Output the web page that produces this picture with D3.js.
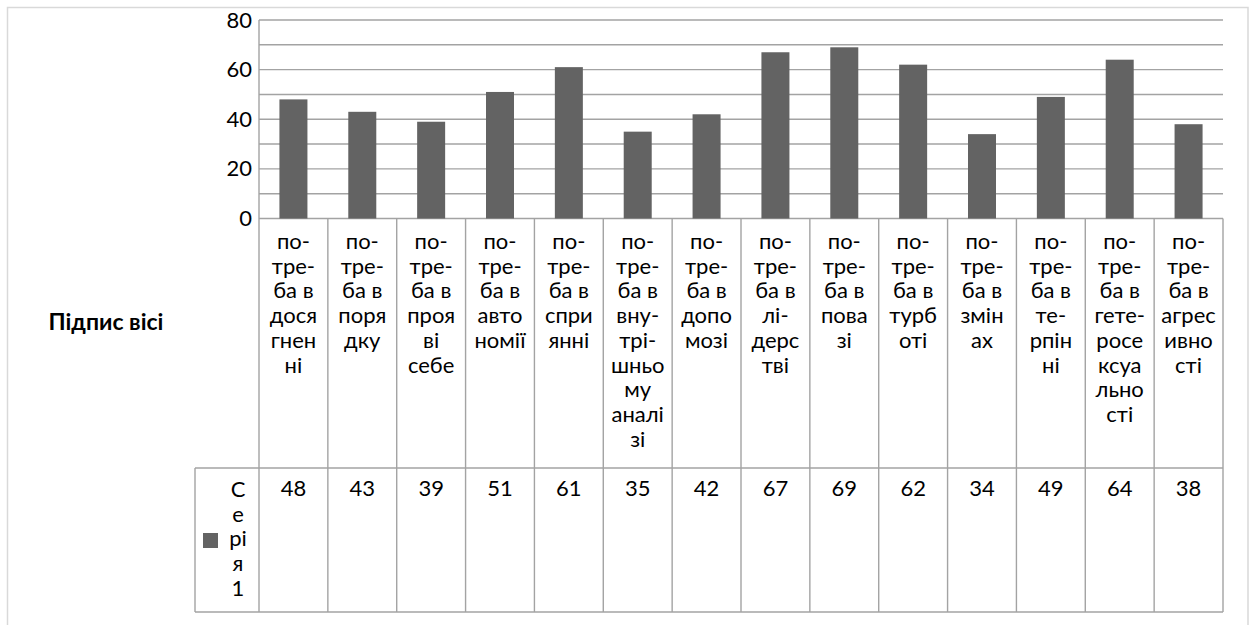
<!DOCTYPE html>
<html>
<head>
<meta charset="utf-8">
<script src="https://cdn.jsdelivr.net/npm/d3@7"></script>
<style>
  html, body { margin: 0; padding: 0; background: #fff; }
  svg { display: block; font-family: Lato, "Open Sans", sans-serif; }
</style>
</head>
<body>
<svg id="chart" width="1254" height="625"></svg>
<script>
// Needs scores per category
const categories = [
  "потреба в досягненні", "потреба в порядку", "потреба в прояві себе",
  "потреба в автономії", "потреба в сприянні", "потреба в внутрішньому аналізі",
  "потреба в допомозі", "потреба в лідерстві", "потреба в повазі",
  "потреба в турботі", "потреба в змінах", "потреба в терпінні",
  "потреба в гетеросексуальності", "потреба в агресивності"
];
// Category labels as wrapped in the narrow table columns
const categoryLines = [
  ["по-", "тре-", "ба в", "дося", "гнен", "ні"],
  ["по-", "тре-", "ба в", "поря", "дку"],
  ["по-", "тре-", "ба в", "проя", "ві", "себе"],
  ["по-", "тре-", "ба в", "авто", "номії"],
  ["по-", "тре-", "ба в", "спри", "янні"],
  ["по-", "тре-", "ба в", "вну-", "трі-", "шньо", "му", "аналі", "зі"],
  ["по-", "тре-", "ба в", "допо", "мозі"],
  ["по-", "тре-", "ба в", "лі-", "дерс", "тві"],
  ["по-", "тре-", "ба в", "пова", "зі"],
  ["по-", "тре-", "ба в", "турб", "оті"],
  ["по-", "тре-", "ба в", "змін", "ах"],
  ["по-", "тре-", "ба в", "те-", "рпін", "ні"],
  ["по-", "тре-", "ба в", "гете-", "росе", "ксуа", "льно", "сті"],
  ["по-", "тре-", "ба в", "агрес", "ивно", "сті"]
];
const seriesName = "Серія 1";
const seriesLines = ["С", "е", "рі", "я", "1"];
const values = [48, 43, 39, 51, 61, 35, 42, 67, 69, 62, 34, 49, 64, 38];
const yTicks = [0, 20, 40, 60, 80];
const yGrid = [0, 10, 20, 30, 40, 50, 60, 70, 80];
const axisTitle = "Підпис вісі";

const svg = d3.select("#chart");
const barColor = "#636363";
const lineColor = "#a3a3a3";

const plot = { left: 259, right: 1223, top: 20, bottom: 218.5 };
const table = { left: 195, rowTop: 468, bottom: 612 };

// outer chart frame
svg.append("rect")
  .attr("x", 7.5).attr("y", 7.5)
  .attr("width", 1240.5).attr("height", 640)
  .attr("fill", "#fff")
  .attr("stroke", "#d9d9d9").attr("stroke-width", 1.5);

const y = d3.scaleLinear().domain([0, 80]).range([plot.bottom, plot.top]);
const col = d3.scaleBand().domain(categories).range([plot.left, plot.right]).padding(0);
const p = 1 - 28 / col.step();
const x = d3.scaleBand().domain(categories).range([plot.left, plot.right])
  .paddingInner(p).paddingOuter(p / 2);

// horizontal gridlines
svg.append("g").selectAll("line").data(yGrid).join("line")
  .attr("x1", plot.left).attr("x2", plot.right)
  .attr("y1", d => y(d)).attr("y2", d => y(d))
  .attr("stroke", lineColor).attr("stroke-width", 1.4);

// bars
svg.append("g").selectAll("rect").data(values).join("rect")
  .attr("x", (d, i) => x(categories[i]))
  .attr("width", x.bandwidth())
  .attr("y", d => y(d))
  .attr("height", d => y(0) - y(d))
  .attr("fill", barColor);

// y axis labels
const yAxis = d3.axisLeft(y).tickValues(yTicks).tickSize(0).tickPadding(7);
const gy = svg.append("g").attr("transform", `translate(${plot.left},0)`).call(yAxis);
gy.select(".domain").remove();
gy.selectAll("text")
  .attr("font-size", 22).attr("fill", "#000")
  .attr("font-family", "Lato, sans-serif");

// table grid: column separators
const bounds = categories.map(c => col(c)).concat([plot.right]);
svg.append("g").selectAll("line").data(bounds).join("line")
  .attr("x1", d => d).attr("x2", d => d)
  .attr("y1", (d, i) => i === 0 ? plot.top : plot.bottom)
  .attr("y2", table.bottom)
  .attr("stroke", lineColor).attr("stroke-width", 1.4);
// data row borders and legend cell
svg.append("g").selectAll("line")
  .data([
    [table.left, table.rowTop, plot.right, table.rowTop],
    [table.left, table.bottom, plot.right, table.bottom],
    [table.left, table.rowTop, table.left, table.bottom]
  ]).join("line")
  .attr("x1", d => d[0]).attr("y1", d => d[1])
  .attr("x2", d => d[2]).attr("y2", d => d[3])
  .attr("stroke", lineColor).attr("stroke-width", 1.4);

// category labels
const lineH = 24.7;
const catG = svg.append("g").attr("font-size", 22).attr("fill", "#000").attr("text-anchor", "middle");
categoryLines.forEach((lines, i) => {
  const cx = col(categories[i]) + col.bandwidth() / 2;
  const t = catG.append("text").attr("x", cx).attr("y", 249);
  lines.forEach((ln, j) => {
    t.append("tspan").attr("x", cx).attr("y", 249 + j * lineH).text(ln);
  });
});

// data table values
svg.append("g").attr("font-size", 22).attr("fill", "#000").attr("text-anchor", "middle")
  .selectAll("text").data(values).join("text")
  .attr("x", (d, i) => col(categories[i]) + col.bandwidth() / 2)
  .attr("y", 496)
  .text(d => d);

// legend key and series name
svg.append("rect").attr("x", 203).attr("y", 533).attr("width", 15).attr("height", 15).attr("fill", barColor);
const st = svg.append("text").attr("font-size", 22).attr("fill", "#000").attr("text-anchor", "middle");
st.append("title").text(seriesName);
seriesLines.forEach((ln, j) => {
  st.append("tspan").attr("x", 238).attr("y", 497 + j * lineH).text(ln);
});

// axis title
svg.append("text")
  .attr("x", 106).attr("y", 330)
  .attr("text-anchor", "middle")
  .attr("font-size", 23).attr("font-weight", "bold").attr("fill", "#000")
  .text(axisTitle);
</script>
</body>
</html>
